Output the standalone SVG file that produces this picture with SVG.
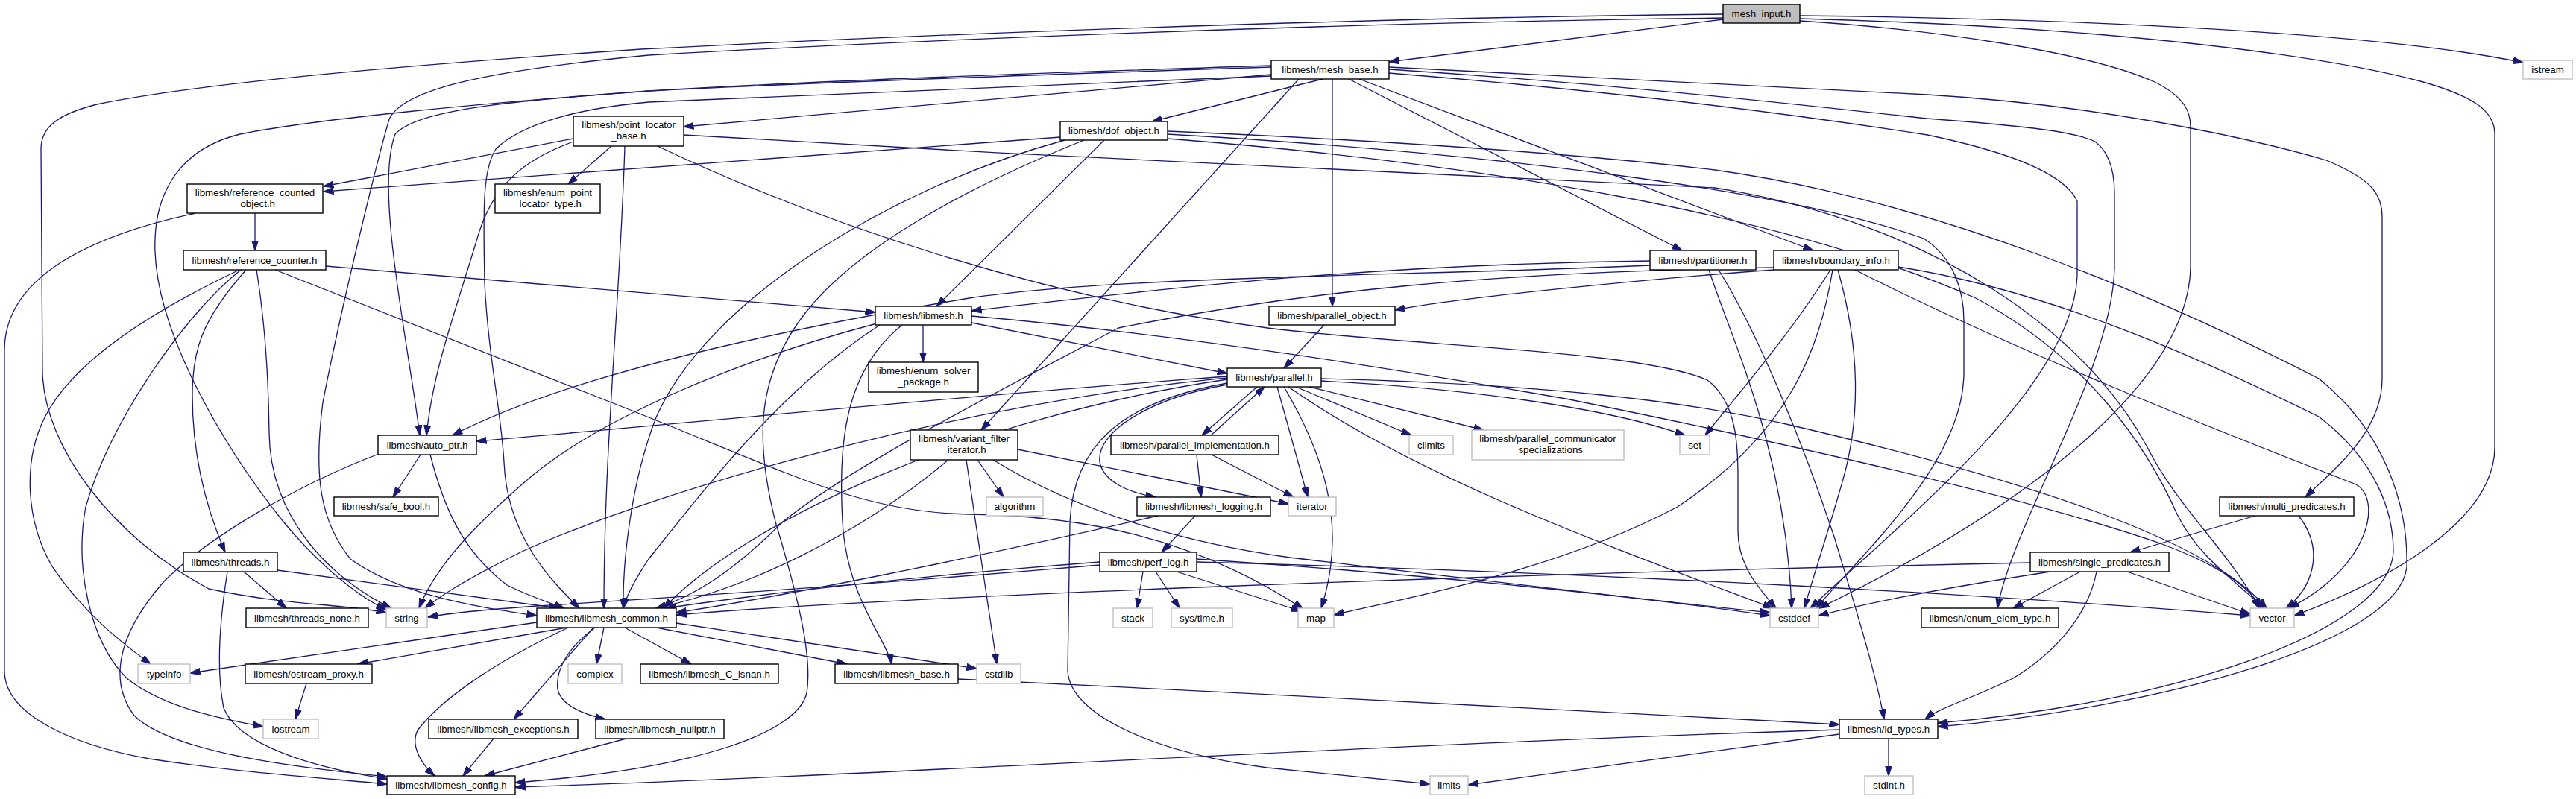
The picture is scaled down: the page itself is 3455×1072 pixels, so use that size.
<svg xmlns="http://www.w3.org/2000/svg" width="3455" height="1072" viewBox="0 0 3455 1072">
<style>
.n rect{fill:#fff;stroke:#000;stroke-width:1.4}
.g rect{stroke:#bfbfbf}
.r rect{fill:#bfbfbf}
text{font-family:"Liberation Sans",Arial,Helvetica,sans-serif;font-size:13.3px;text-anchor:middle;fill:#000}
#edges path{fill:none;stroke:#191970;stroke-width:1.3;marker-end:url(#a)}
</style>
<defs>
<marker id="a" markerUnits="userSpaceOnUse" markerWidth="14" markerHeight="10" viewBox="0 0 14 10" refX="13.5" refY="5" orient="auto"><path d="M0,0.5 L14,5 L0,9.5 z" fill="#191970" stroke="#191970" stroke-width="1"/></marker>
</defs>
<rect width="3455" height="1072" fill="#fff"/>
<g id="edges">
<path d="M2311,26 L1863,83"/>
<path d="M2414,21 C2800,25 3200,45 3384,84"/>
<path d="M2311,19 C1800,24 1200,48 860,66 C500,90 250,115 130,140 C70,155 55,175 55,200 L57,500 C60,600 150,720 280,790 C380,812 460,810 518,822"/>
<path d="M2311,24 C1800,30 1200,55 870,74 C650,95 540,120 522,160 C510,200 460,400 433,540 C420,640 430,700 470,750 C540,800 640,814 720,826"/>
<path d="M2414,28 C2600,40 2800,70 2890,110 C2930,130 2938,150 2938,170 L2938,358 C2935,520 2700,690 2440,816"/>
<path d="M2414,25 C2800,35 3100,70 3250,110 C3320,130 3346,150 3346,180 L3346,600 C3346,700 3200,780 3077,826"/>
<path d="M1705,100 L917,170"/>
<path d="M1774,106 L1545,163"/>
<path d="M1705,90 C1400,100 1100,110 870,122 C700,135 560,145 530,180 C515,220 522,300 530,360 C540,440 555,520 563,584"/>
<path d="M1705,88 C1400,98 1100,108 870,122 C650,138 420,160 322,180 C240,200 205,260 208,338 C212,450 300,600 380,700 C430,760 480,800 518,818"/>
<path d="M1823,106 L2432,336"/>
<path d="M1809,106 L2256,336"/>
<path d="M1787,106 L1787,411"/>
<path d="M1742,106 L1316,577"/>
<path d="M1863,90 C2200,105 2450,120 2585,127 C2800,140 3000,180 3120,215 C3180,240 3195,260 3195,290 L3195,508 C3195,580 3130,630 3092,667"/>
<path d="M1863,93 C2200,115 2450,145 2585,159 C2700,168 2780,175 2810,190 C2830,205 2836,230 2836,260 L2836,360 C2832,500 2700,700 2679,816"/>
<path d="M1863,98 C2200,125 2450,160 2585,181 C2700,205 2770,235 2786,270 L2786,370 C2780,520 2550,700 2428,816"/>
<path d="M1705,102 C1400,115 1000,130 870,137 C780,145 700,165 665,200 C645,230 649,300 650,380 C655,480 672,550 676,620 C680,720 740,780 777,816"/>
<path d="M769,186 L434,250"/>
<path d="M820,196 L762,247"/>
<path d="M838,196 C832,400 810,600 810,816"/>
<path d="M769,190 C700,215 660,250 640,320 C610,420 580,500 572,584"/>
<path d="M882,196 C1100,300 1400,400 1700,440 C1900,465 2200,470 2290,510 C2330,540 2331,600 2331,640 L2331,712 C2331,760 2360,790 2382,816"/>
<path d="M917,181 C1400,210 2000,240 2300,252 C2600,300 2800,450 2880,600 C2920,680 2990,740 3030,816"/>
<path d="M1422,184 L434,257"/>
<path d="M1481,188 L1256,411"/>
<path d="M1428,188 C1200,250 950,400 880,560 C845,650 835,760 836,816"/>
<path d="M1454,188 C1300,250 1150,330 1080,420 C1010,510 1015,600 1040,700 C1070,800 1090,880 1082,930 C1070,980 950,1030 691,1050"/>
<path d="M1566,176 C1900,190 2150,210 2300,228 C2600,270 2900,400 3110,508 C3200,580 3230,680 3228,760 C3220,860 2900,950 2599,975"/>
<path d="M1566,180 C2000,205 2400,255 2580,320 C2620,345 2634,390 2634,430 L2634,500 C2634,620 2500,740 2436,816"/>
<path d="M1566,186 C2000,220 2400,290 2650,400 C2800,480 2880,600 2920,690 C2950,750 3000,780 3036,816"/>
<path d="M342,286 L342,336"/>
<path d="M262,286 C150,310 6,360 6,470 L6,900 C6,960 100,1000 200,1018 C330,1038 450,1045 519,1052"/>
<path d="M321,362 C220,410 100,480 60,560 C30,620 35,700 70,760 C110,820 160,860 202,891"/>
<path d="M323,362 C250,420 150,560 115,680 C100,760 120,860 170,910 C220,950 300,965 353,975"/>
<path d="M330,362 C270,430 258,470 258,530 C258,620 280,690 302,741"/>
<path d="M344,362 C355,430 360,500 361,580 C362,700 450,780 525,816"/>
<path d="M369,362 L820,540 C1050,630 1150,688 1300,690 C1450,692 1600,720 1748,817"/>
<path d="M437,357 L1174,419"/>
<path d="M2213,350 C1800,355 1500,395 1303,417"/>
<path d="M2213,356 C1900,370 1500,370 1300,400 C1000,450 750,510 607,584"/>
<path d="M2292,362 C2320,450 2395,600 2403,816"/>
<path d="M2305,362 C2360,450 2420,600 2460,720 C2490,820 2515,900 2527,965"/>
<path d="M2379,362 C2200,375 1950,400 1871,416"/>
<path d="M2379,359 C2000,365 1750,390 1500,440 C1350,520 1150,620 1050,700 C980,770 930,800 880,816"/>
<path d="M2455,362 C2400,450 2330,530 2287,584"/>
<path d="M2458,362 C2440,470 2400,580 2250,680 C2080,770 1870,805 1789,825"/>
<path d="M2465,362 C2490,450 2500,550 2470,650 C2450,720 2430,780 2420,816"/>
<path d="M2488,362 C2700,470 2980,580 3160,650 C3195,670 3180,760 3070,816"/>
<path d="M2546,358 C2750,390 2950,480 3110,559 C3190,620 3210,690 3210,740 C3205,850 2900,945 2599,970"/>
<path d="M1238,436 L1238,486"/>
<path d="M1303,433 L1646,501"/>
<path d="M1303,424 C1600,450 1900,500 2100,535 C2300,575 2700,660 2900,730 C2980,760 3020,790 3032,816"/>
<path d="M1176,434 C1000,480 800,560 700,650 C620,720 580,770 562,816"/>
<path d="M1180,436 C1050,520 950,650 870,750 C850,780 840,800 836,816"/>
<path d="M1210,436 C1130,500 1125,600 1130,700 C1135,800 1190,860 1196,891"/>
<path d="M1776,436 L1722,494"/>
<path d="M1686,519 L1612,584"/>
<path d="M1624,584 L1696,519"/>
<path d="M1646,516 C1540,535 1470,580 1475,620 C1480,645 1510,660 1550,667"/>
<path d="M1713,519 L1754,667"/>
<path d="M1722,519 C1770,600 1810,700 1772,816"/>
<path d="M1728,519 C1900,640 2150,730 2378,816"/>
<path d="M1738,519 L1893,584"/>
<path d="M1756,519 L1990,577"/>
<path d="M1772,511 C1950,520 2150,545 2260,584"/>
<path d="M1772,508 C2050,515 2250,535 2400,570 C2700,640 2960,720 3040,816"/>
<path d="M1646,507 C1300,540 900,650 700,740 C620,780 590,800 570,816"/>
<path d="M1646,505 C1300,530 900,570 639,592"/>
<path d="M1646,509 C1300,560 1000,700 890,816"/>
<path d="M1646,514 C1500,540 1440,600 1435,700 L1432,900 C1435,960 1550,1010 1700,1030 C1800,1040 1880,1048 1918,1052"/>
<path d="M1605,610 L1611,667"/>
<path d="M1625,610 L1735,667"/>
<path d="M1553,692 C1300,750 1050,800 907,822"/>
<path d="M1603,692 L1558,741"/>
<path d="M1475,754 C1200,775 1000,800 893,816"/>
<path d="M1475,758 C1100,790 850,805 720,813 C650,818 600,823 574,828"/>
<path d="M1533,767 L1525,816"/>
<path d="M1550,767 L1582,816"/>
<path d="M1578,767 L1745,820"/>
<path d="M1605,750 C1900,770 2200,800 2374,826"/>
<path d="M1605,754 C2200,770 2700,800 3018,826"/>
<path d="M1272,617 C1150,720 1000,790 880,816"/>
<path d="M1296,617 L1337,891"/>
<path d="M1311,617 L1346,667"/>
<path d="M1365,603 L1728,676"/>
<path d="M1332,617 C1450,690 1600,730 1730,748 C2000,780 2250,810 2374,822"/>
<path d="M564,610 L527,667"/>
<path d="M577,610 C595,680 620,740 680,785 C710,800 735,808 757,816"/>
<path d="M508,609 C400,650 280,720 220,780 C150,860 150,920 180,960 C230,1010 400,1030 519,1042"/>
<path d="M327,767 L384,816"/>
<path d="M372,765 L750,816"/>
<path d="M305,767 C295,830 290,900 300,950 C320,1000 420,1030 519,1045"/>
<path d="M3025,692 L2857,741"/>
<path d="M3083,692 C3120,740 3100,790 3066,816"/>
<path d="M2723,755 C2000,770 1200,800 907,825"/>
<path d="M2750,767 C2600,790 2500,810 2439,826"/>
<path d="M2790,767 L2700,816"/>
<path d="M2853,767 L3018,824"/>
<path d="M2812,767 C2800,830 2750,880 2700,910 C2650,935 2600,950 2582,965"/>
<path d="M720,835 L255,903"/>
<path d="M760,842 L480,891"/>
<path d="M810,842 L800,891"/>
<path d="M838,842 L927,891"/>
<path d="M880,842 L1136,891"/>
<path d="M907,836 L1310,897"/>
<path d="M796,842 L689,965"/>
<path d="M797,843 C760,870 745,900 748,925 C752,945 780,958 812,965"/>
<path d="M760,843 C660,890 590,940 560,980 C550,1000 565,1025 583,1041"/>
<path d="M1285,911 C1700,930 2200,960 2467,972"/>
<path d="M662,991 L621,1041"/>
<path d="M840,991 L650,1041"/>
<path d="M411,917 L396,965"/>
<path d="M2467,979 C1800,1000 1200,1040 691,1056"/>
<path d="M2467,985 L1969,1053"/>
<path d="M2533,991 L2533,1041"/>
</g>
<g id="mesh_input" class="n r"><rect x="2311" y="6" width="103" height="25"/><text x="2362.5" y="23.2">mesh_input.h</text></g>
<g id="mesh_base" class="n"><rect x="1705" y="81" width="158" height="25"/><text x="1784" y="98.2">libmesh/mesh_base.h</text></g>
<g id="istream" class="n g"><rect x="3384" y="81" width="66" height="25"/><text x="3417" y="98.2">istream</text></g>
<g id="point_locator_base" class="n"><rect x="769" y="156" width="148" height="40"/><text x="843" y="172">libmesh/point_locator</text><text x="843" y="187">_base.h</text></g>
<g id="dof_object" class="n"><rect x="1422" y="163" width="144" height="25"/><text x="1494" y="180.2">libmesh/dof_object.h</text></g>
<g id="reference_counted_object" class="n"><rect x="251" y="247" width="182" height="39"/><text x="342" y="263">libmesh/reference_counted</text><text x="342" y="278">_object.h</text></g>
<g id="enum_point_locator_type" class="n"><rect x="664" y="247" width="141" height="39"/><text x="734.5" y="263">libmesh/enum_point</text><text x="734.5" y="278">_locator_type.h</text></g>
<g id="reference_counter" class="n"><rect x="246" y="336" width="191" height="26"/><text x="341.5" y="353.7">libmesh/reference_counter.h</text></g>
<g id="partitioner" class="n"><rect x="2213" y="336" width="142" height="26"/><text x="2284" y="353.7">libmesh/partitioner.h</text></g>
<g id="boundary_info" class="n"><rect x="2379" y="336" width="167" height="26"/><text x="2462.5" y="353.7">libmesh/boundary_info.h</text></g>
<g id="libmesh" class="n"><rect x="1174" y="411" width="129" height="25"/><text x="1238.5" y="428.2">libmesh/libmesh.h</text></g>
<g id="parallel_object" class="n"><rect x="1702" y="411" width="169" height="25"/><text x="1786.5" y="428.2">libmesh/parallel_object.h</text></g>
<g id="enum_solver_package" class="n"><rect x="1165" y="486" width="147" height="40"/><text x="1238.5" y="502">libmesh/enum_solver</text><text x="1238.5" y="517">_package.h</text></g>
<g id="parallel" class="n"><rect x="1646" y="494" width="126" height="25"/><text x="1709" y="511.2">libmesh/parallel.h</text></g>
<g id="auto_ptr" class="n"><rect x="507" y="584" width="132" height="26"/><text x="573" y="601.7">libmesh/auto_ptr.h</text></g>
<g id="variant_filter_iterator" class="n"><rect x="1221" y="577" width="144" height="40"/><text x="1293" y="593">libmesh/variant_filter</text><text x="1293" y="608">_iterator.h</text></g>
<g id="parallel_implementation" class="n"><rect x="1490" y="584" width="225" height="26"/><text x="1602.5" y="601.7">libmesh/parallel_implementation.h</text></g>
<g id="climits" class="n g"><rect x="1890" y="584" width="59" height="26"/><text x="1919.5" y="601.7">climits</text></g>
<g id="parallel_communicator_specializations" class="n g"><rect x="1974" y="577" width="204" height="40"/><text x="2076" y="593">libmesh/parallel_communicator</text><text x="2076" y="608">_specializations</text></g>
<g id="set" class="n g"><rect x="2253" y="584" width="40" height="26"/><text x="2273" y="601.7">set</text></g>
<g id="safe_bool" class="n"><rect x="448" y="667" width="140" height="25"/><text x="518" y="684.2">libmesh/safe_bool.h</text></g>
<g id="algorithm" class="n g"><rect x="1323" y="667" width="76" height="25"/><text x="1361" y="684.2">algorithm</text></g>
<g id="libmesh_logging" class="n"><rect x="1525" y="667" width="179" height="25"/><text x="1614.5" y="684.2">libmesh/libmesh_logging.h</text></g>
<g id="iterator" class="n g"><rect x="1728" y="667" width="64" height="25"/><text x="1760" y="684.2">iterator</text></g>
<g id="multi_predicates" class="n"><rect x="2977" y="667" width="180" height="25"/><text x="3067" y="684.2">libmesh/multi_predicates.h</text></g>
<g id="threads" class="n"><rect x="246" y="741" width="126" height="26"/><text x="309" y="758.7">libmesh/threads.h</text></g>
<g id="perf_log" class="n"><rect x="1475" y="741" width="130" height="26"/><text x="1540" y="758.7">libmesh/perf_log.h</text></g>
<g id="single_predicates" class="n"><rect x="2723" y="741" width="186" height="26"/><text x="2816" y="758.7">libmesh/single_predicates.h</text></g>
<g id="threads_none" class="n"><rect x="330" y="816" width="164" height="26"/><text x="412" y="833.7">libmesh/threads_none.h</text></g>
<g id="string" class="n g"><rect x="518" y="816" width="55" height="26"/><text x="545.5" y="833.7">string</text></g>
<g id="libmesh_common" class="n"><rect x="720" y="816" width="187" height="26"/><text x="813.5" y="833.7">libmesh/libmesh_common.h</text></g>
<g id="stack" class="n g"><rect x="1493" y="816" width="53" height="26"/><text x="1519.5" y="833.7">stack</text></g>
<g id="sys_time" class="n g"><rect x="1571" y="816" width="82" height="26"/><text x="1612" y="833.7">sys/time.h</text></g>
<g id="map" class="n g"><rect x="1741" y="816" width="48" height="26"/><text x="1765" y="833.7">map</text></g>
<g id="cstddef" class="n g"><rect x="2374" y="816" width="65" height="26"/><text x="2406.5" y="833.7">cstddef</text></g>
<g id="enum_elem_type" class="n"><rect x="2577" y="816" width="184" height="26"/><text x="2669" y="833.7">libmesh/enum_elem_type.h</text></g>
<g id="vector" class="n g"><rect x="3018" y="816" width="59" height="26"/><text x="3047.5" y="833.7">vector</text></g>
<g id="typeinfo" class="n g"><rect x="185" y="891" width="70" height="26"/><text x="220" y="908.7">typeinfo</text></g>
<g id="ostream_proxy" class="n"><rect x="329" y="891" width="170" height="26"/><text x="414" y="908.7">libmesh/ostream_proxy.h</text></g>
<g id="complex" class="n g"><rect x="762" y="891" width="72" height="26"/><text x="798" y="908.7">complex</text></g>
<g id="libmesh_C_isnan" class="n"><rect x="859" y="891" width="185" height="26"/><text x="951.5" y="908.7">libmesh/libmesh_C_isnan.h</text></g>
<g id="libmesh_base" class="n"><rect x="1120" y="891" width="165" height="26"/><text x="1202.5" y="908.7">libmesh/libmesh_base.h</text></g>
<g id="cstdlib" class="n g"><rect x="1310" y="891" width="59" height="26"/><text x="1339.5" y="908.7">cstdlib</text></g>
<g id="iostream" class="n g"><rect x="353" y="965" width="74" height="26"/><text x="390" y="982.7">iostream</text></g>
<g id="libmesh_exceptions" class="n"><rect x="575" y="965" width="200" height="26"/><text x="675" y="982.7">libmesh/libmesh_exceptions.h</text></g>
<g id="libmesh_nullptr" class="n"><rect x="799" y="965" width="172" height="26"/><text x="885" y="982.7">libmesh/libmesh_nullptr.h</text></g>
<g id="id_types" class="n"><rect x="2467" y="965" width="132" height="26"/><text x="2533" y="982.7">libmesh/id_types.h</text></g>
<g id="libmesh_config" class="n"><rect x="519" y="1041" width="172" height="25"/><text x="605" y="1058.2">libmesh/libmesh_config.h</text></g>
<g id="limits" class="n g"><rect x="1918" y="1041" width="51" height="25"/><text x="1943.5" y="1058.2">limits</text></g>
<g id="stdint" class="n g"><rect x="2501" y="1041" width="65" height="25"/><text x="2533.5" y="1058.2">stdint.h</text></g>
</svg>
